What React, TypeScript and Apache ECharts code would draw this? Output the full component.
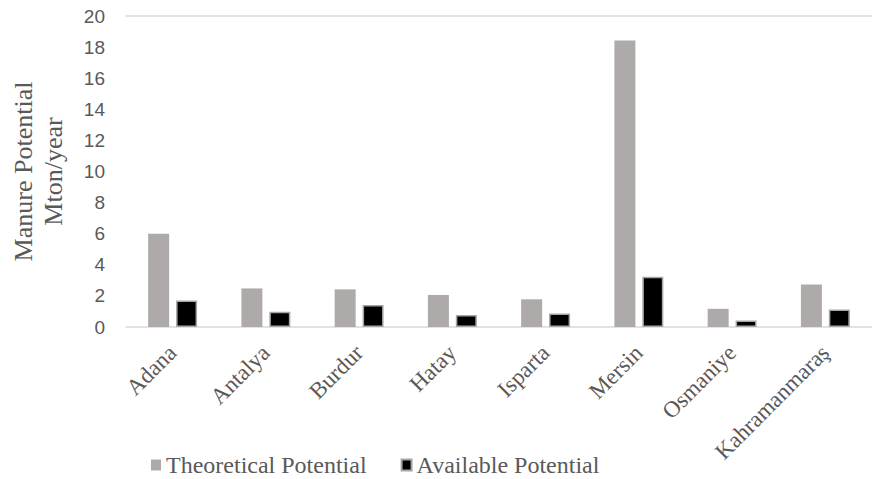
import React, { useEffect, useRef } from "react";
import * as echarts from "echarts";

const categories = ["Adana", "Antalya", "Burdur", "Hatay", "Isparta", "Mersin", "Osmaniye", "Kahramanmaraş"];
const theoretical = [6.0, 2.48, 2.42, 2.06, 1.78, 18.42, 1.17, 2.73];
const available = [1.7, 0.98, 1.41, 0.77, 0.87, 3.23, 0.42, 1.12];
const seriesNames = ["Theoretical Potential", "Available Potential"];
const yAxisName = "Manure Potential\nMton/year";

export default function App() {
  const ref = useRef<HTMLDivElement>(null);
  useEffect(() => {
    if (!ref.current) return;
    const chart = echarts.init(ref.current, null, { renderer: "svg" });
    const serif = "'Liberation Serif', 'Times New Roman', serif";
    chart.setOption({
      animation: false,
      backgroundColor: "#ffffff",
      grid: { left: 118, top: 16, width: 766, height: 311, containLabel: false },
      legend: {
        left: 151,
        top: 453,
        padding: 0,
        itemWidth: 10,
        itemHeight: 11,
        itemGap: 34,
        icon: "rect",
        textStyle: { fontFamily: serif, fontSize: 24, lineHeight: 24, color: "#595959" },
        data: seriesNames,
      },
      xAxis: [
        {
          type: "category",
          data: categories,
          axisLine: { lineStyle: { color: "#d9d9d9", width: 1.5 } },
          axisTick: { show: false },
          axisLabel: {
            rotate: 45,
            interval: 0,
            margin: 22,
            fontFamily: serif,
            fontSize: 23,
            color: "#595959",
          },
        },
        {
          type: "category",
          data: categories,
          position: "top",
          axisLine: { show: true, lineStyle: { color: "#d9d9d9", width: 1.5 } },
          axisTick: { show: false },
          axisLabel: { show: false },
        },
      ],
      yAxis: {
        type: "value",
        min: 0,
        max: 20,
        interval: 2,
        name: yAxisName,
        nameLocation: "middle",
        nameGap: 58,
        nameTextStyle: { fontFamily: serif, fontSize: 26, color: "#595959", lineHeight: 30 },
        axisLine: { show: false },
        axisTick: { show: false },
        splitLine: { show: false },
        axisLabel: {
          margin: 21,
          fontFamily: "'Liberation Sans', Arial, sans-serif",
          fontSize: 19,
          color: "#595959",
        },
      },
      series: [
        {
          name: seriesNames[0],
          type: "bar",
          data: theoretical,
          barWidth: 21,
          barGap: "33%",
          itemStyle: { color: "#AEAAAA" },
        },
        {
          name: seriesNames[1],
          type: "bar",
          data: available,
          barWidth: 21,
          itemStyle: { color: "#000000", borderColor: "#a6a6a6", borderWidth: 1.5 },
        },
      ],
    });
    return () => chart.dispose();
  }, []);
  return (
    <div
      ref={ref}
      style={{ position: "fixed", left: 0, top: 0, width: 872, height: 479, background: "#fff" }}
    />
  );
}
